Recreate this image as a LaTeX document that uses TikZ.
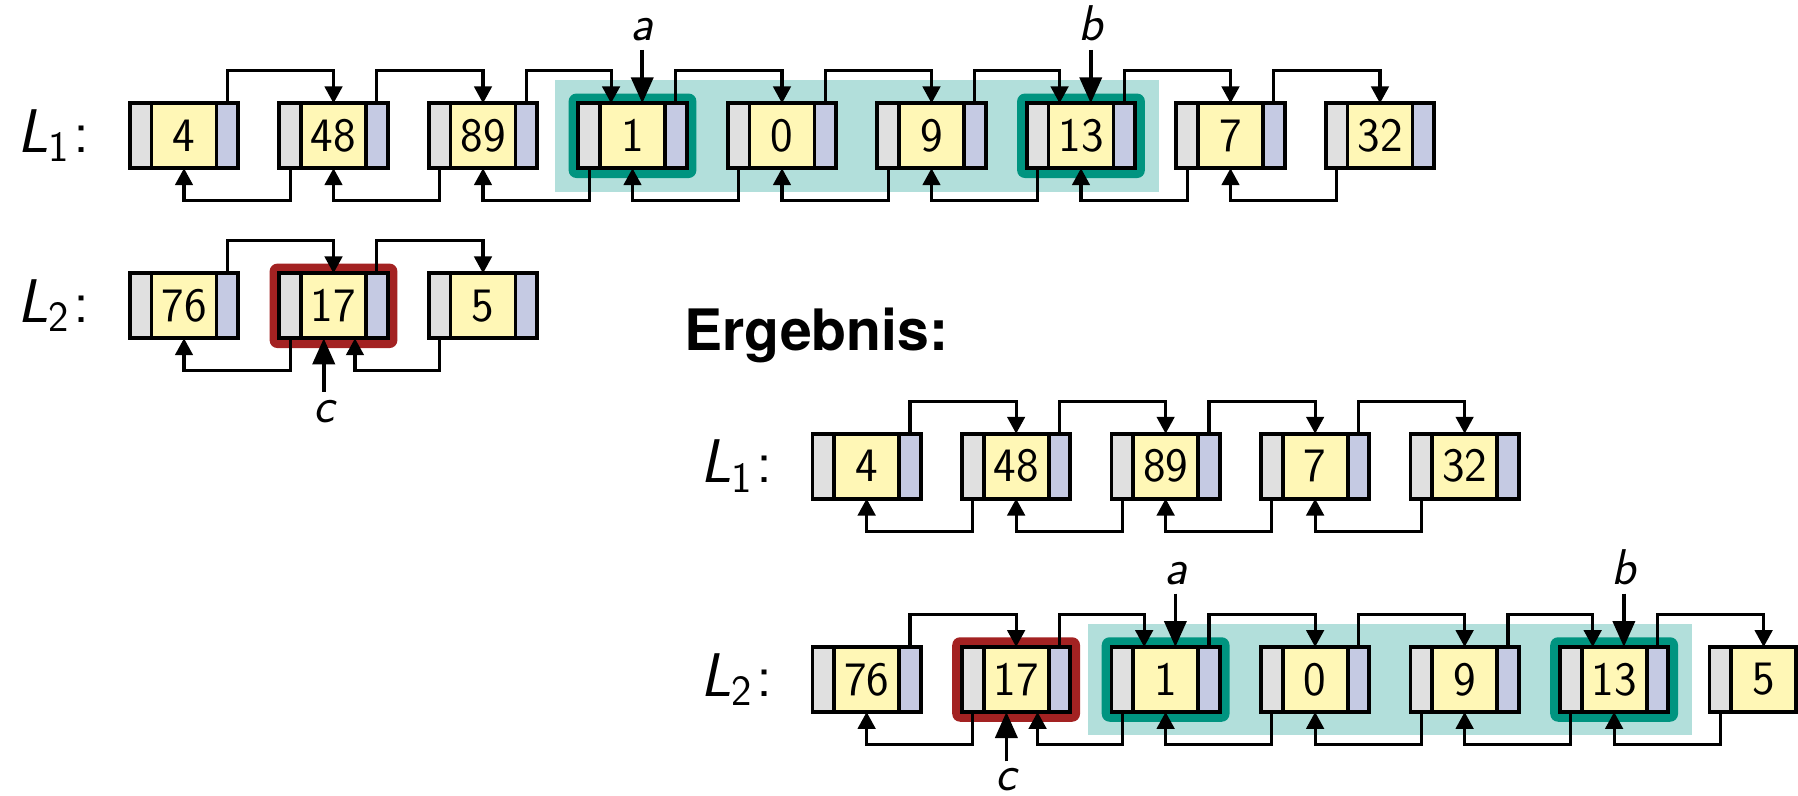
\documentclass[tikz,border=0pt]{standalone}
\usepackage{fontspec}
\usepackage{tikz}
\usetikzlibrary{arrows.meta,fit,backgrounds}
\newfontfamily\ergfont{TeX Gyre Heros}
\definecolor{boxgray}{HTML}{E0E0E0}
\definecolor{boxyellow}{HTML}{FFF7B6}
\definecolor{boxblue}{HTML}{C5CAE3}
\definecolor{tealbg}{HTML}{B2DFDB}
\definecolor{tealdark}{HTML}{009480}
\definecolor{reddark}{HTML}{A32222}
\newcommand{\lname}[1]{{\slshape L}\textsubscript{#1}\kern1.5pt:}

\begin{document}
\begin{tikzpicture}
[%%%%%%%%%%%%%%%%%%%%%%%%%%%%%%
val/.style={rectangle,draw=black,line width=1.7pt,fill=boxyellow,minimum width=1cm,minimum height=1cm,inner sep=0pt,outer sep=0pt,font=\fontsize{21}{25}\selectfont\sffamily},
prv/.style={rectangle,draw=black,line width=1.7pt,fill=boxgray,minimum width=0.333cm,minimum height=1cm,inner sep=0pt,outer sep=0pt},
nxt/.style={prv,fill=boxblue},
link/.style={line width=1.35pt,-{Triangle[length=0.26cm,width=0.27cm]}},
ptr/.style={line width=1.6pt,-{Triangle[length=0.4cm,width=0.34cm]}},
ptrlab/.style={inner sep=0.13cm,font=\fontsize{22}{26}\selectfont\sffamily\slshape},
lab/.style={inner sep=0pt,font=\fontsize{27}{32}\selectfont\sffamily},
hl/.style={rounded corners=0.12cm,inner sep=0.15cm},
]%%%%%%%%%%%%%%%%%%%%%%%%%%%%%%
\useasboundingbox (0,0) rectangle (27.662,-12.246);

% L1
\foreach \v [count=\i from 0] in {4,48,89,1,0,9,13,7,32}{
\node[val] (la\i) at (2.831+2.3*\i,-2.089){\v};
\node[prv,anchor=east] (la\i-l) at (la\i.west){};
\node[nxt,anchor=west] (la\i-r) at (la\i.east){};
}
\foreach \i/\j/\s in {0/1/0,1/2/0,2/3/-0.33,3/4/0,4/5/0,5/6/-0.33,6/7/0,7/8/0}
\draw[link] (la\i-r.north) -- ++(0,0.5) -| ([xshift=\s cm]la\j.north);
\foreach \i/\j in {1/0,2/1,3/2,4/3,5/4,6/5,7/6,8/7}
\draw[link] (la\i-l.south) -- ++(0,-0.5) -| (la\j.south);

% L2
\foreach \v [count=\i from 0] in {76,17,5}{
\node[val] (lb\i) at (2.831+2.3*\i,-4.705){\v};
\node[prv,anchor=east] (lb\i-l) at (lb\i.west){};
\node[nxt,anchor=west] (lb\i-r) at (lb\i.east){};
}
\foreach \i/\j in {0/1,1/2}
\draw[link] (lb\i-r.north) -- ++(0,0.5) -| (lb\j.north);
\foreach \i/\j/\s in {1/0/0,2/1/0.33}
\draw[link] (lb\i-l.south) -- ++(0,-0.5) -| ([xshift=\s cm]lb\j.south);

% Ergebnis L1
\foreach \v [count=\i from 0] in {4,48,89,7,32}{
\node[val] (ra\i) at (13.333+2.3*\i,-7.172){\v};
\node[prv,anchor=east] (ra\i-l) at (ra\i.west){};
\node[nxt,anchor=west] (ra\i-r) at (ra\i.east){};
}
\foreach \i/\j in {0/1,1/2,2/3,3/4}
\draw[link] (ra\i-r.north) -- ++(0,0.5) -| (ra\j.north);
\foreach \i/\j in {1/0,2/1,3/2,4/3}
\draw[link] (ra\i-l.south) -- ++(0,-0.5) -| (ra\j.south);

% Ergebnis L2
\foreach \v [count=\i from 0] in {76,17,1,0,9,13,5}{
\node[val] (rb\i) at (13.333+2.3*\i,-10.454){\v};
\node[prv,anchor=east] (rb\i-l) at (rb\i.west){};
\node[nxt,anchor=west] (rb\i-r) at (rb\i.east){};
}
\foreach \i/\j/\s in {0/1/0,1/2/-0.33,2/3/0,3/4/0,4/5/-0.33,5/6/0}
\draw[link] (rb\i-r.north) -- ++(0,0.5) -| ([xshift=\s cm]rb\j.north);
\foreach \i/\j/\s in {1/0/0,2/1/0.33,3/2/0,4/3/0,5/4/0,6/5/0}
\draw[link] (rb\i-l.south) -- ++(0,-0.5) -| ([xshift=\s cm]rb\j.south);

% highlights
\begin{scope}[on background layer]
\node[fit=(la3-l)(la6-r),inner sep=0.36cm,fill=tealbg] (ha){};
\node[fit=(la3-l)(la3-r),hl,fill=tealdark] (ha1){};
\node[fit=(la6-l)(la6-r),hl,fill=tealdark] (ha2){};
\node[fit=(lb1-l)(lb1-r),hl,fill=reddark] (hb){};
\node[fit=(rb2-l)(rb5-r),inner sep=0.36cm,fill=tealbg] (hr){};
\node[fit=(rb2-l)(rb2-r),hl,fill=tealdark] (hr1){};
\node[fit=(rb5-l)(rb5-r),hl,fill=tealdark] (hr2){};
\node[fit=(rb1-l)(rb1-r),hl,fill=reddark] (hr3){};
\end{scope}

% pointers
\node[ptrlab,anchor=south] (pa) at ([xshift=0.15cm,yshift=0.82cm]la3.north){a};
\node[ptrlab,anchor=south] (pb) at ([xshift=0.15cm,yshift=0.82cm]la6.north){b};
\node[ptrlab,anchor=north] (pc) at ([xshift=-0.15cm,yshift=-0.82cm]lb1.south){c};
\draw[ptr] (pa.south) -- ([xshift=0.15cm]la3.north);
\draw[ptr] (pb.south) -- ([xshift=0.15cm]la6.north);
\draw[ptr] (pc.north) -- ([xshift=-0.15cm]lb1.south);
\node[ptrlab,anchor=south] (qa) at ([xshift=0.15cm,yshift=0.82cm]rb2.north){a};
\node[ptrlab,anchor=south] (qb) at ([xshift=0.15cm,yshift=0.82cm]rb5.north){b};
\node[ptrlab,anchor=north,inner sep=0pt] (qc) at ([xshift=-0.15cm,yshift=-0.86cm]rb1.south){c};
\draw[ptr] ([yshift=0.1cm]qc.north) -- ([xshift=-0.15cm]rb1.south);
\draw[ptr] (qa.south) -- ([xshift=0.15cm]rb2.north);
\draw[ptr] (qb.south) -- ([xshift=0.15cm]rb5.north);

% labels
\node[lab,anchor=base east] (n1) at (1.385,-2.344){\lname{1}};
\node[lab,anchor=base east] (n2) at (1.385,-4.96){\lname{2}};
\node[lab,anchor=base east] (m1) at (11.89,-7.427){\lname{1}};
\node[lab,anchor=base east] (m2) at (11.89,-10.709){\lname{2}};
\node[anchor=base west,inner sep=0pt,font=\ergfont\bfseries\fontsize{25}{30}\selectfont] (erg) at (10.52,-5.385){Ergebnis:};
\end{tikzpicture}
\end{document}
